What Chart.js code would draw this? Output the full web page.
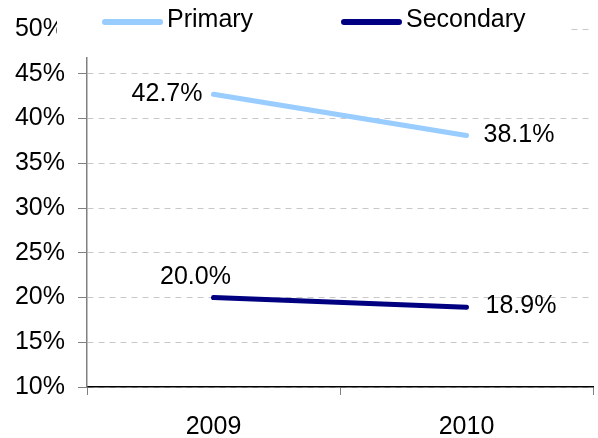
<!DOCTYPE html>
<html>
<head>
<meta charset="utf-8">
<script src="https://cdn.jsdelivr.net/npm/chart.js@4.4.1/dist/chart.umd.min.js"></script>
<style>
  html, body { margin: 0; padding: 0; background: #fff; }
  #wrap { width: 598px; height: 438px; }
</style>
</head>
<body>
<div id="wrap"><canvas id="c" width="598" height="438"></canvas></div>
<script>
// Share of enrolment by level, 2009-2010
const years = ['2009', '2010'];
const primary = [42.7, 38.1];
const secondary = [20.0, 18.9];
const seriesNames = ['Primary', 'Secondary'];
const seriesColors = ['#99CCFF', '#000080'];

const FONT = '"Liberation Sans", Arial, sans-serif';

// Value labels beside each point, read from the dataset values
const labelOffsets = [
  [{ dx: -11, dy: 0, align: 'right' }, { dx: 17, dy: 0, align: 'left' }],
  [{ dx: -18, dy: -20, align: 'center' }, { dx: 19, dy: -1, align: 'left' }]
];
const valueLabels = {
  id: 'valueLabels',
  afterDatasetsDraw(chart) {
    const ctx = chart.ctx;
    ctx.save();
    ctx.font = '25px ' + FONT;
    ctx.fillStyle = '#000';
    ctx.textBaseline = 'middle';
    chart.data.datasets.forEach((ds, i) => {
      chart.getDatasetMeta(i).data.forEach((pt, j) => {
        const o = labelOffsets[i][j];
        ctx.textAlign = o.align;
        ctx.fillText(ds.data[j].toFixed(1) + '%', pt.x + o.dx, pt.y + o.dy);
      });
    });
    ctx.restore();
  }
};

// Legend on a white box laid over the top of the plot
const lineLegend = {
  id: 'lineLegend',
  afterDraw(chart) {
    const ctx = chart.ctx;
    const a = chart.chartArea;
    ctx.save();
    ctx.fillStyle = '#fff';
    ctx.fillRect(a.left - 30, 0, 511, 57);
    ctx.font = '25px ' + FONT;
    ctx.textBaseline = 'middle';
    ctx.textAlign = 'left';
    const starts = [a.left + 15, a.left + 254];
    chart.data.datasets.forEach((ds, i) => {
      const x = starts[i];
      ctx.strokeStyle = ds.borderColor;
      ctx.lineWidth = 6;
      ctx.lineCap = 'round';
      ctx.beginPath();
      ctx.moveTo(x + 3, 22);
      ctx.lineTo(x + 58, 22);
      ctx.stroke();
      ctx.fillStyle = '#000';
      ctx.fillText(ds.label, x + 65, 20.5);
    });
    ctx.restore();
  }
};

new Chart(document.getElementById('c'), {
  type: 'line',
  data: {
    labels: years,
    datasets: [
      { label: seriesNames[0], data: primary, borderColor: seriesColors[0], backgroundColor: seriesColors[0] },
      { label: seriesNames[1], data: secondary, borderColor: seriesColors[1], backgroundColor: seriesColors[1] }
    ].map(d => Object.assign(d, {
      borderWidth: 5,
      pointRadius: 0,
      pointHoverRadius: 0,
      borderCapStyle: 'round',
      tension: 0,
      fill: false
    }))
  },
  options: {
    responsive: false,
    animation: false,
    events: [],
    layout: { padding: { top: 29, right: 5, left: 0, bottom: 0 } },
    plugins: {
      legend: { display: false },
      tooltip: { enabled: false }
    },
    scales: {
      x: {
        offset: true,
        grid: {
          offset: true,
          drawOnChartArea: false,
          drawTicks: true,
          tickLength: 8,
          color: '#808080',
          lineWidth: 1
        },
        border: { color: '#000', width: 1.5 },
        ticks: {
          color: '#000',
          font: { family: FONT, size: 25 },
          padding: 17
        },
        afterFit(s) { s.height = 51; }
      },
      y: {
        min: 10,
        max: 50,
        ticks: {
          stepSize: 5,
          color: '#000',
          font: { family: FONT, size: 25 },
          padding: 13,
          callback: v => v + '%'
        },
        grid: {
          color: '#C8C8C8',
          lineWidth: 1,
          tickLength: 9,
          tickColor: '#808080',
          tickBorderDash: [],
          drawTicks: true
        },
        border: { color: '#808080', width: 1.5, dash: [6, 5] },
        afterFit(s) { s.width = 87; }
      }
    }
  },
  plugins: [valueLabels, lineLegend]
});
</script>
</body>
</html>
